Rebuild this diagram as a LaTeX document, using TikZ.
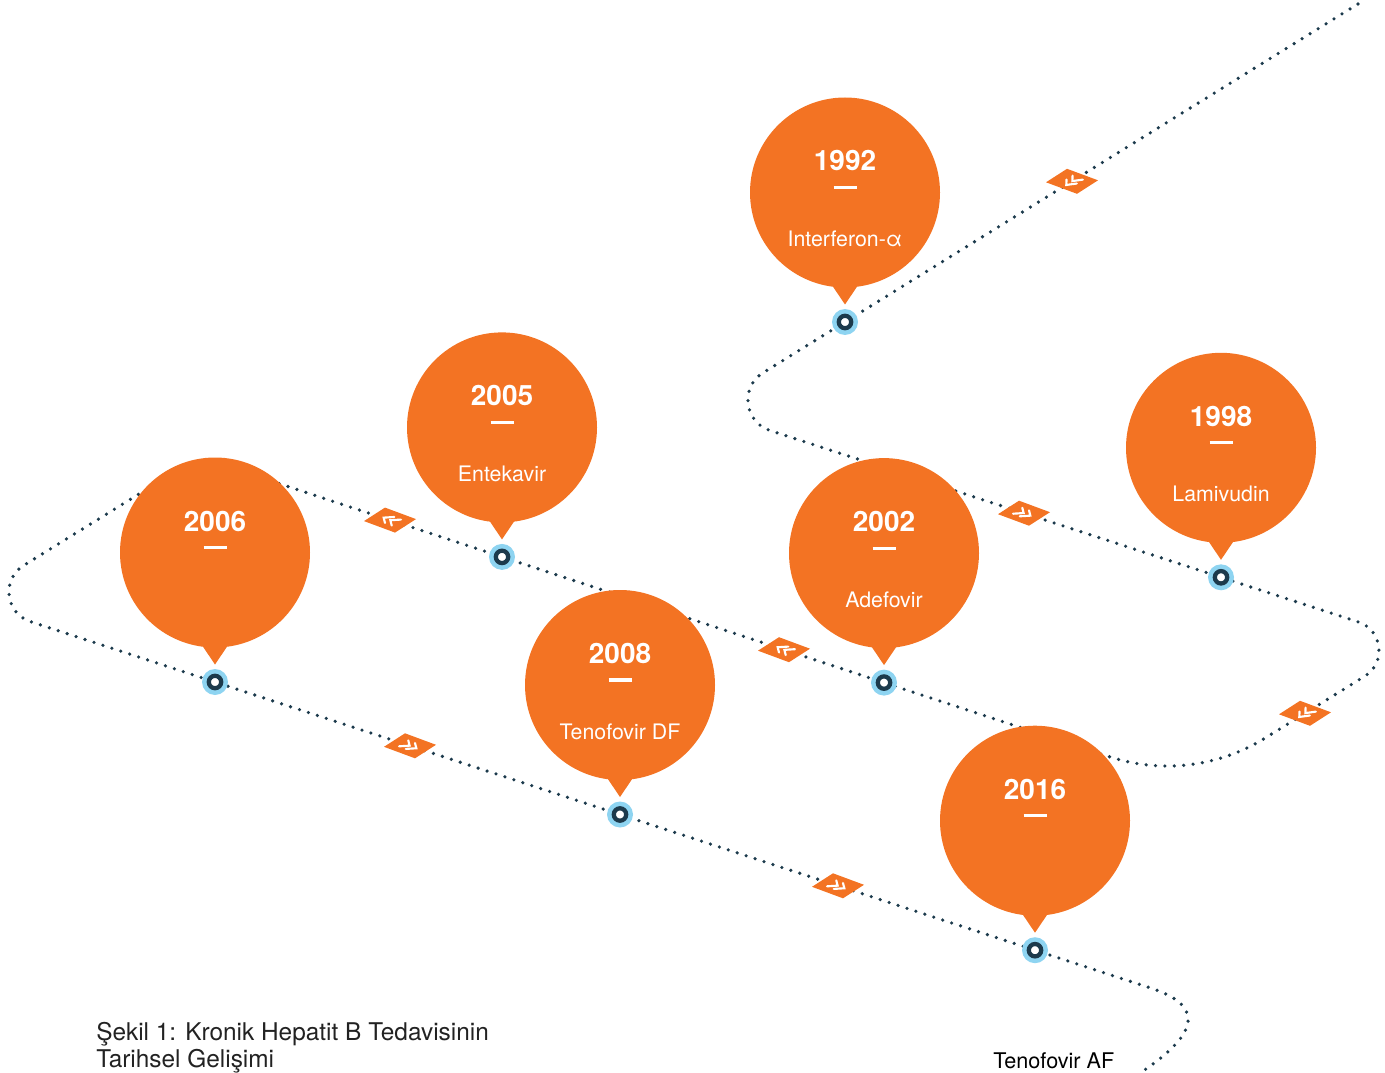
\documentclass[tikz,border=0pt]{standalone}
\usepackage{fontspec}
\setmainfont{TeX Gyre Heros}
\usetikzlibrary{calc}
\definecolor{bor}{HTML}{F37323}
\definecolor{bblue}{HTML}{8ED4F1}
\definecolor{bnavy}{HTML}{1C3A4C}
\definecolor{captxt}{HTML}{222222}
\newcommand\chevs[5]{%
  \foreach \o in {-3.6,3.6}{%
    \draw[chevw] ($(#1)+({(\o-3.2)*(#2)+5.5*(#4)},{(\o-3.2)*(#3)+5.5*(#5)})$)
      -- ($(#1)+({(\o+3.2)*(#2)},{(\o+3.2)*(#3)})$)
      -- ($(#1)+({(\o-3.2)*(#2)-5.5*(#4)},{(\o-3.2)*(#3)-5.5*(#5)})$);
  }}
\newcommand\marker[5]{%
  \fill[bor] ($(#1)+(-26,1)$) -- ($(#1)+(-5,-12.5)$) -- ($(#1)+(26,-1)$) -- ($(#1)+(5,12.5)$) -- cycle;
  \chevs{#1}{#2}{#3}{#4}{#5}}
\begin{document}
\begin{tikzpicture}[x=0.75pt,y=-0.75pt,
  trail/.style={bnavy, line width=2.7pt, line cap=round, dash pattern=on 0pt off 7.05pt},
  chevw/.style={white, line width=1.6pt, line cap=round, line join=miter},
  yeartxt/.style={white, inner sep=0pt, anchor=base, font=\fontsize{21}{25}\selectfont\bfseries},
  labtxt/.style={white, inner sep=0pt, anchor=base, font=\fontsize{16}{19}\selectfont},
  pinnode/.style={circle, fill=bblue, minimum size=19.5pt, inner sep=0pt},
  captext/.style={captxt, inner sep=0pt, anchor=base west, font=\fontsize{18.3}{22}\selectfont},
]
\useasboundingbox (0,0) rectangle (1385,1073);
% pin positions
\coordinate (c1992) at (845,322);
\coordinate (c1998) at (1221,577.3);
\coordinate (c2002) at (884,682.6);
\coordinate (c2005) at (502,556.9);
\coordinate (c2006) at (215,682);
\coordinate (c2008) at (620,814.5);
\coordinate (c2016) at (1035,950.2);
\coordinate (start) at (1358,4);
\coordinate (finish) at (1140,1073);
% dotted trail
\draw[trail] (start) -- (c1992) -- (763,372.8)
  .. controls (739.9,387.1) and (744.1,422.1) .. (770,430.5)
  -- (c1998) -- (1358.2,621.9)
  .. controls (1382.5,629.8) and (1386.5,662.8) .. (1364.8,676.2)
  -- (1264.5,738.4)
  .. controls (1218.2,767.1) and (1161.5,773.8) .. (1109.7,756.8)
  -- (c2002) -- (c2005) -- (236.5,469.6)
  .. controls (212.4,461.7) and (186.1,464.8) .. (164.5,478.2)
  -- (23.6,565.5)
  .. controls (1.2,579.4) and (5.3,613.4) .. (30.4,621.6)
  -- (c2006) -- (c2008) -- (c2016) -- (1150,987.8)
  .. controls (1200,1004) and (1205,1030) .. (finish);
% direction markers
\coordinate (m1) at (1072,181.3);
\coordinate (m2) at (1024,513.2);
\coordinate (m3) at (1305,713.3);
\coordinate (m4) at (784,649.7);
\coordinate (m5) at (390,520.1);
\coordinate (m6) at (410,745.8);
\coordinate (m7) at (838,885.8);
\marker{m1}{-0.84}{0.54}{0.933}{0.361}
\marker{m2}{0.933}{0.361}{0.84}{-0.54}
\marker{m3}{-0.84}{0.54}{0.933}{0.361}
\marker{m4}{-0.933}{-0.361}{0.84}{-0.54}
\marker{m5}{-0.933}{-0.361}{0.84}{-0.54}
\marker{m6}{0.933}{0.361}{0.84}{-0.54}
\marker{m7}{0.933}{0.361}{0.84}{-0.54}
% bubbles
\foreach \c/\yr/\lab in {c1992/1992/Interferon-α, c1998/1998/Lamivudin, c2002/2002/Adefovir, c2005/2005/Entekavir, c2006/2006/, c2008/2008/Tenofovir DF, c2016/2016/}{
  \fill[bor] ($(\c)+(0,-129.5)$) circle (95);
  \fill[bor] ($(\c)+(-21.6,-49.5)$) -- ($(\c)+(21.6,-49.5)$) -- ($(\c)+(0,-17.5)$) -- cycle;
  \node[yeartxt] (y\yr) at ($(\c)+(0,-151)$) {\yr};
  \draw[white, line width=2.4pt] ($(\c)+(-11.5,-134.5)$) -- ($(\c)+(11.5,-134.5)$);
  \node[labtxt] (l\yr) at ($(\c)+(0,-75.5)$) {\lab};
  \node[pinnode] (p\yr) at (\c) {};
  \draw[bnavy, fill=white, line width=3.2pt] (\c) circle (6.2);
}
% texts
\node[captext] (cap1) at (96,1040) {Şekil 1: Kronik Hepatit B Tedavisinin};
\node[captext] (cap2) at (96,1067) {Tarihsel Gelişimi};
\node[inner sep=0pt, anchor=base west, text=black, font=\fontsize{16.2}{19}\selectfont] (taf) at (993,1068) {Tenofovir AF};
\end{tikzpicture}
\end{document}
